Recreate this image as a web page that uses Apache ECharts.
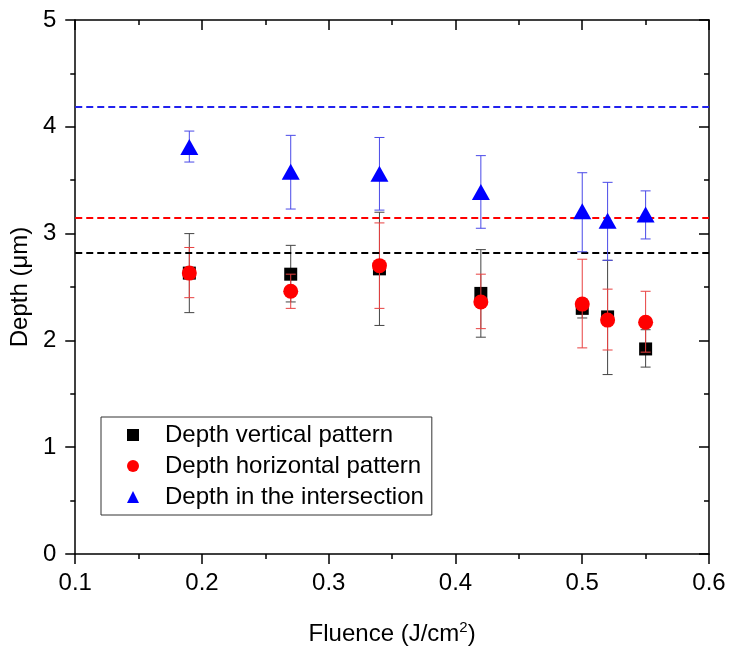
<!DOCTYPE html>
<html>
<head>
<meta charset="utf-8">
<script src="https://cdn.jsdelivr.net/npm/echarts@6/dist/echarts.min.js"></script>
<style>html,body{margin:0;padding:0;background:#fff}#c{width:732px;height:652px}</style>
</head>
<body>
<div id="c"></div>
<script>
// ---- data ----
const fluence = [0.19, 0.27, 0.34, 0.42, 0.50, 0.52, 0.55];

const vertDepth = [2.63, 2.62, 2.67, 2.44, 2.30, 2.22, 1.92];
const vertLow   = [2.26, 2.36, 2.14, 2.03, 2.21, 1.68, 1.75];
const vertHigh  = [3.00, 2.89, 3.20, 2.85, 2.39, 2.75, 2.10];

const horDepth = [2.63, 2.46, 2.70, 2.36, 2.34, 2.19, 2.17];
const horLow   = [2.40, 2.30, 2.30, 2.11, 1.93, 1.91, 1.89];
const horHigh  = [2.87, 2.62, 3.10, 2.62, 2.76, 2.48, 2.46];

const intDepth = [3.81, 3.58, 3.56, 3.39, 3.21, 3.12, 3.18];
const intLow   = [3.67, 3.23, 3.22, 3.05, 2.83, 2.75, 2.95];
const intHigh  = [3.96, 3.92, 3.90, 3.73, 3.57, 3.48, 3.40];

const refVert = 2.818;
const refHor = 3.155;
const refInt = 4.19;

const seriesNames = ['Depth vertical pattern', 'Depth horizontal pattern', 'Depth in the intersection'];
const xTicks = [0.1, 0.2, 0.3, 0.4, 0.5, 0.6];
const yTicks = [0, 1, 2, 3, 4, 5];

// ---- chart ----
const chart = echarts.init(document.getElementById('c'), null, {renderer: 'canvas'});
const FONT = 'Liberation Sans, Arial, sans-serif';

function pts(ys) { return fluence.map((x, i) => [x, ys[i]]); }
function errs(lo, hi) { return fluence.map((x, i) => [x, lo[i], hi[i]]); }

function errSeries(lo, hi, color, z) {
  return {
    type: 'custom',
    z: z,
    silent: true,
    data: errs(lo, hi),
    encode: {x: 0, y: [1, 2]},
    renderItem: function (params, api) {
      const x = api.value(0);
      const a = api.coord([x, api.value(1)]);
      const b = api.coord([x, api.value(2)]);
      const hw = 5;
      const st = {stroke: color, lineWidth: 1};
      return {
        type: 'group',
        children: [
          {type: 'line', shape: {x1: a[0], y1: a[1], x2: b[0], y2: b[1]}, style: st},
          {type: 'line', shape: {x1: a[0] - hw, y1: a[1], x2: a[0] + hw, y2: a[1]}, style: st},
          {type: 'line', shape: {x1: b[0] - hw, y1: b[1], x2: b[0] + hw, y2: b[1]}, style: st}
        ]
      };
    }
  };
}

function refLine(v, color) {
  return {
    silent: true,
    symbol: 'none',
    label: {show: false},
    lineStyle: {color: color, type: [7, 4], width: 1.8},
    data: [{yAxis: v}]
  };
}

const axisLine = {show: true, onZero: false, lineStyle: {color: '#000', width: 1.5}};

const option = {
  animation: false,
  backgroundColor: '#fff',
  grid: {left: 72, right: 23, top: 20, bottom: 98, containLabel: false},
  legend: {
    orient: 'vertical',
    left: 101,
    top: 417,
    data: seriesNames,
    padding: [6, 8, 6, 26],
    itemGap: 7,
    itemWidth: 12,
    itemHeight: 12,
    formatter: name => '{g|}' + name,
    borderColor: '#333',
    borderWidth: 1,
    borderRadius: 0,
    textStyle: {fontFamily: FONT, fontSize: 24, color: '#000', rich: {g: {width: 21}}}
  },
  xAxis: [
    {
      type: 'value', position: 'bottom', min: 0.1, max: 0.6, interval: 0.1,
      name: 'Fluence (J/cm{sup|2})',
      nameLocation: 'middle', nameGap: 66,
      nameTextStyle: {fontFamily: FONT, fontSize: 24, color: '#000',
        rich: {sup: {fontFamily: FONT, fontSize: 15, color: '#000', padding: [0, 0, 14, 0]}}},
      axisLine: axisLine,
      axisTick: {show: true, inside: false, length: 10, lineStyle: {color: '#000', width: 1.5}},
      minorTick: {show: true, splitNumber: 2, length: 5, lineStyle: {color: '#000', width: 1.5}},
      splitLine: {show: false},
      axisLabel: {fontFamily: FONT, fontSize: 24, color: '#000', margin: 17,
        formatter: v => { const t = xTicks.find(k => Math.abs(k - v) < 1e-9); return t === undefined ? '' : t.toFixed(1); }}
    },
    {
      type: 'value', position: 'top', min: 0.1, max: 0.6, interval: 0.1,
      axisLine: axisLine,
      axisTick: {show: true, inside: true, length: 10, lineStyle: {color: '#000', width: 1.5}},
      minorTick: {show: true, splitNumber: 2, length: 5, lineStyle: {color: '#000', width: 1.5}},
      splitLine: {show: false},
      axisLabel: {show: false}
    }
  ],
  yAxis: [
    {
      type: 'value', position: 'left', min: 0, max: 5, interval: 1,
      name: 'Depth (μm)',
      nameLocation: 'middle', nameGap: 32,
      nameTextStyle: {fontFamily: FONT, fontSize: 24, color: '#000'},
      axisLine: axisLine,
      axisTick: {show: true, inside: false, length: 10, lineStyle: {color: '#000', width: 1.5}},
      minorTick: {show: true, splitNumber: 2, length: 5, lineStyle: {color: '#000', width: 1.5}},
      splitLine: {show: false},
      axisLabel: {fontFamily: FONT, fontSize: 24, color: '#000', margin: 19,
        formatter: v => { const t = yTicks.find(k => Math.abs(k - v) < 1e-9); return t === undefined ? '' : String(t); }}
    },
    {
      type: 'value', position: 'right', min: 0, max: 5, interval: 1,
      axisLine: axisLine,
      axisTick: {show: true, inside: true, length: 10, lineStyle: {color: '#000', width: 1.5}},
      minorTick: {show: true, splitNumber: 2, length: 5, lineStyle: {color: '#000', width: 1.5}},
      splitLine: {show: false},
      axisLabel: {show: false}
    }
  ],
  series: [
    errSeries(vertLow, vertHigh, '#444444', 2),
    {
      name: seriesNames[0], type: 'scatter', z: 3, symbol: 'rect', symbolSize: 13,
      itemStyle: {color: '#000000', opacity: 1},
      data: pts(vertDepth),
      markLine: refLine(refVert, '#000000')
    },
    errSeries(horLow, horHigh, '#e84040', 4),
    {
      name: seriesNames[1], type: 'scatter', z: 5, symbol: 'circle', symbolSize: 15,
      itemStyle: {color: '#ff0000', opacity: 1},
      data: pts(horDepth),
      markLine: refLine(refHor, '#ff0000')
    },
    errSeries(intLow, intHigh, '#4a4ae8', 6),
    {
      name: seriesNames[2], type: 'scatter', z: 7, symbol: 'triangle', symbolSize: [18, 16],
      itemStyle: {color: '#0000ff', opacity: 1},
      data: pts(intDepth),
      markLine: refLine(refInt, '#2222ee')
    }
  ]
};
chart.setOption(option);
</script>
</body>
</html>
